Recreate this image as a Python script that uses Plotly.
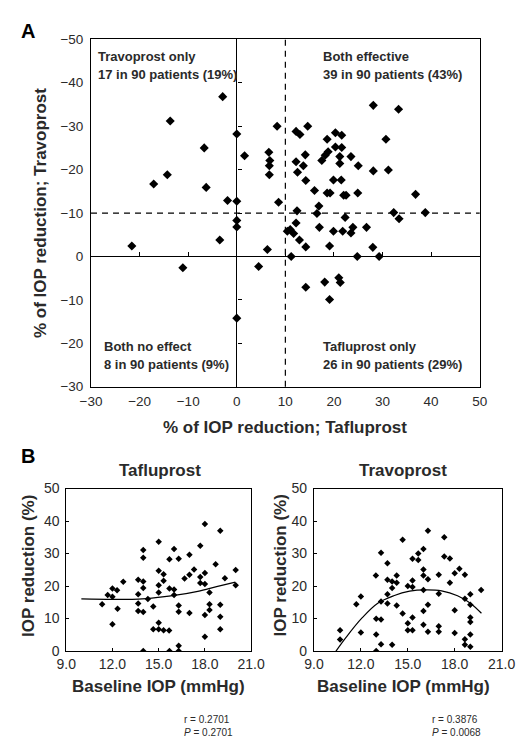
import plotly.graph_objects as go

# ---------------- Panel A data (% IOP reduction) ----------------
taf_red = [-2.9, -13.7, 8.3, 28.1, 33.3, 14.6, 12.2, 13.0, 0.0, -6.7, 1.6, 6.6, 6.8, 6.7, 6.7,
           -14.3, -17.1, -6.3, -1.9, 0.0, 8.6, 30.7, 28.1, 31.2, 36.8, 18.6, 20.3, 21.6, 20.3,
           21.6, 18.8, 18.2, 21.2, 23.5, 17.5, 21.2, 25.0, 12.2, 14.1, 13.7, 12.5, 14.2, 19.9,
           21.5, 16.0, 18.6, 19.2, 22.0, 22.5, 24.9, 16.9, 12.4, 16.5, 22.3, 32.3, 33.4, 38.8,
           12.2, 17.0, 23.9, 26.7, 19.9, 21.8, 23.5, 10.4, 11.0, 11.7, 12.9, 14.2, 19.1, 28.0,
           24.8, 29.3, 11.2, 0.0, 0.0, -3.5, -21.6, 6.3, -11.1, 4.5, 14.2, 18.1, 21.0, 21.3,
           19.1, 0.0]
trav_red = [36.8, 31.2, 30.0, 34.8, 33.9, 30.0, 28.8, 28.1, 28.2, 25.0, 23.2, 24.0, 22.1, 20.9,
            18.8, 18.8, 16.7, 15.9, 12.9, 12.7, 12.5, 27.0, 19.7, 19.9, 14.3, 27.0, 28.5, 27.9,
            25.2, 25.1, 24.1, 23.3, 23.0, 23.0, 22.1, 21.4, 20.9, 21.8, 23.4, 20.9, 19.4, 17.5,
            17.6, 17.6, 15.2, 14.6, 14.6, 14.1, 14.1, 14.6, 11.6, 10.5, 9.9, 9.0, 10.1, 8.7,
            10.1, 7.7, 6.7, 6.7, 6.7, 5.8, 5.8, 5.4, 5.8, 6.2, 5.3, 3.8, 2.2, 2.4, 2.1,
            0.0, 0.0, 0.0, 8.3, 6.8, 3.8, 2.4, 1.6, -2.6, -2.3, -7.1, -5.9, -4.9, -6.0,
            -9.9, -14.2]

a_ticks = [-30, -20, -10, 0, 10, 20, 30, 40, 50]
a_y_ticktext = ["\u221230", "\u221220", "\u221210", "0", "\u221210", "\u221220", "\u221230", "\u221240", "\u221250"]
a_x_ticktext = ["\u221230", "\u221220", "\u221210", "0", "10", "20", "30", "40", "50"]
threshold = 10

quad_titles = ["Travoprost only", "Both effective", "Both no effect", "Tafluprost only"]
quad_counts = ["17 in 90 patients (19%)", "39 in 90 patients (43%)",
               "8 in 90 patients (9%)", "26 in 90 patients (29%)"]

# ---------------- Panel B data ----------------
taf_base = [11.33, 11.69, 12.0, 12.0, 12.0, 12.3, 12.33, 12.7, 13.67, 13.67, 13.67, 13.67, 14.0, 14.0,
            14.0, 14.0, 14.0, 14.0, 14.3, 14.65, 14.65, 15.0, 15.0, 15.0, 15.0, 15.0, 15.0, 15.32,
            15.32, 15.32, 15.68, 15.7, 15.7, 15.7, 16.0, 16.0, 16.0, 16.3, 16.3, 16.3, 16.3, 16.3,
            16.68, 17.0, 17.0, 17.0, 17.3, 17.7, 17.7, 17.7, 18.0, 18.0, 18.0, 18.0, 18.0, 18.3,
            18.3, 18.3, 18.7, 19.0, 19.0, 19.0, 19.0, 19.3, 20.0, 20.0]
taf_pct = [14.4, 17.2, 19.2, 16.7, 8.2, 18.7, 13.0, 21.3, 21.9, 17.5, 14.6, 12.3, 21.4, 19.4,
           31.1, 28.7, 12.0, 0.0, 16.0, 13.7, 6.7, 33.6, 24.7, 20.2, 18.0, 8.7, 6.7, 23.6,
           21.6, 6.4, 6.3, 28.2, 19.2, 0.0, 31.4, 18.9, 17.2, 28.4, 14.0, 12.1, 1.6, 0.0,
           22.3, 29.6, 23.5, 11.7, 25.1, 32.4, 22.8, 20.9, 39.1, 24.0, 20.6, 11.1, 4.4, 18.0,
           14.4, 12.6, 26.7, 37.0, 14.2, 10.5, 6.7, 22.4, 24.9, 20.2]
taf_fit_x = [9.98, 12.05, 13.68, 15.1, 16.12, 17.54, 18.76, 19.98]
taf_fit_y = [16.05, 15.9, 15.96, 16.57, 17.17, 18.37, 19.8, 21.2]

trav_base = [10.67, 10.67, 11.71, 12.0, 12.0, 12.96, 12.98, 12.98, 12.98, 13.29, 13.29, 13.29, 13.29,
             13.7, 13.7, 13.7, 13.7, 14.0, 14.0, 14.0, 14.29, 14.29, 14.29, 14.67, 14.67, 15.0,
             15.0, 15.0, 15.3, 15.3, 15.3, 15.3, 15.3, 15.67, 15.67, 16.0, 16.0, 16.0, 16.0, 16.0,
             16.0, 16.29, 16.29, 16.29, 16.29, 16.98, 16.98, 16.98, 16.98, 17.33, 17.33, 17.69,
             17.69, 18.0, 18.0, 18.0, 18.3, 18.65, 18.65, 18.65, 18.65, 19.0, 19.0, 19.0, 19.0,
             19.0, 19.0, 19.69]
trav_pct = [6.4, 3.5, 14.4, 16.8, 5.7, 23.2, 9.9, 5.1, 0.0, 30.2, 15.2, 9.7, 2.1,
            27.0, 21.9, 17.5, 14.6, 21.4, 19.4, 1.9, 23.2, 21.0, 14.0, 34.2, 11.5, 20.0,
            8.5, 6.4, 28.4, 21.7, 19.7, 10.3, 6.4, 30.0, 28.0, 31.4, 25.1, 23.2, 18.8, 12.3,
            8.1, 37.0, 22.1, 14.2, 5.9, 23.5, 17.6, 7.6, 5.9, 35.0, 29.1, 28.5,
            21.0, 23.9, 12.5, 5.5, 25.3, 23.5, 16.1, 3.6, 1.9, 17.5, 14.2, 10.3, 8.9,
            5.1, 1.3, 18.8]
trav_fit_x = [10.02, 11.04, 12.06, 13.08, 14.1, 15.12, 16.14, 17.16, 18.18, 19.0, 19.71]
trav_fit_y = [-2.7, 4.1, 10.1, 14.7, 17.0, 18.4, 18.8, 18.5, 17.0, 14.7, 11.6]

b_x_ticks = [9, 12, 15, 18, 21]
b_x_ticktext = ["9.0", "12.0", "15.0", "18.0", "21.0"]
b_y_ticks = [0, 10, 20, 30, 40, 50]
stats_taf = ["r = 0.2701", "<i>P</i> = 0.2701"]
stats_trav = ["r = 0.3876", "<i>P</i> = 0.0068"]

# ---------------- Layout geometry ----------------
W, H = 528, 750
FONT = "Liberation Sans, Arial, sans-serif"
TXT = "#2a2a2a"

def px(x):
    return x / W

def py(y):
    return 1 - y / H

A_xdom = [px(84), px(492)]
A_ydom = [py(387), py(32)]
BL_xdom = [px(58), px(252)]
BR_xdom = [px(318), px(515)]
B_ydom = [py(657), py(491)]
A_range = [-30, 50]

# paper position of the zero crossings
zero_y_paper = A_ydom[0] + (0 - A_range[0]) / (A_range[1] - A_range[0]) * (A_ydom[1] - A_ydom[0])
zero_x_paper = A_xdom[0] + (0 - A_range[0]) / (A_range[1] - A_range[0]) * (A_xdom[1] - A_xdom[0])

fig = go.Figure()

fig.add_trace(go.Scatter(x=taf_red, y=trav_red, mode="markers", xaxis="x", yaxis="y",
                         marker=dict(symbol="diamond", size=7, color="black"),
                         showlegend=False, hoverinfo="x+y"))
fig.add_trace(go.Scatter(x=[None], y=[None], mode="markers", xaxis="x2", yaxis="y2",
                         showlegend=False, hoverinfo="skip"))
fig.add_trace(go.Scatter(x=taf_base, y=taf_pct, mode="markers", xaxis="x3", yaxis="y3",
                         marker=dict(symbol="diamond", size=5, color="black"),
                         showlegend=False))
fig.add_trace(go.Scatter(x=taf_fit_x, y=taf_fit_y, mode="lines", xaxis="x3", yaxis="y3",
                         line=dict(color="black", width=1.2, shape="spline"),
                         showlegend=False, hoverinfo="skip"))
fig.add_trace(go.Scatter(x=trav_base, y=trav_pct, mode="markers", xaxis="x4", yaxis="y4",
                         marker=dict(symbol="diamond", size=5, color="black"),
                         showlegend=False))
fig.add_trace(go.Scatter(x=trav_fit_x, y=trav_fit_y, mode="lines", xaxis="x4", yaxis="y4",
                         line=dict(color="black", width=1.2, shape="spline"),
                         showlegend=False, hoverinfo="skip"))

frame = dict(showline=True, linecolor="black", linewidth=1, mirror=True,
             showgrid=False, zeroline=False)

fig.update_layout(
    width=W, height=H, margin=dict(l=0, r=0, t=0, b=0),
    paper_bgcolor="white", plot_bgcolor="white",
    font=dict(family=FONT, color=TXT),
    xaxis=dict(domain=A_xdom, range=A_range, anchor="y", tickvals=a_ticks,
               ticktext=a_x_ticktext, ticks="", tickfont=dict(size=13.5, color=TXT),
               ticklabelstandoff=2,
               showline=True, linecolor="black", linewidth=1, mirror=True, showgrid=False,
               zeroline=True, zerolinecolor="black", zerolinewidth=1.2),
    yaxis=dict(domain=A_ydom, range=A_range, anchor="x", tickvals=a_ticks,
               ticktext=a_y_ticktext, ticks="", tickfont=dict(size=13.5, color=TXT),
               ticklabelstandoff=4,
               showline=True, linecolor="black", linewidth=1, mirror=True, showgrid=False,
               zeroline=True, zerolinecolor="black", zerolinewidth=1.2),
    xaxis2=dict(overlaying="x", anchor="free", position=zero_y_paper, range=A_range,
                tickvals=a_ticks, ticks="inside", ticklen=4, tickcolor="black",
                showticklabels=False, showline=False, showgrid=False, zeroline=False),
    yaxis2=dict(overlaying="y", anchor="free", position=zero_x_paper, range=A_range,
                tickvals=a_ticks, ticks="inside", ticklen=4, tickcolor="black",
                showticklabels=False, showline=False, showgrid=False, zeroline=False),
    xaxis3=dict(domain=BL_xdom, range=[9, 21], anchor="y3", tickvals=b_x_ticks,
                ticktext=b_x_ticktext, ticks="inside", ticklen=3, tickcolor="black",
                tickfont=dict(size=14, color=TXT), **frame),
    yaxis3=dict(domain=B_ydom, range=[0, 50], anchor="x3", tickvals=b_y_ticks,
                ticks="inside", ticklen=3, tickcolor="black", ticklabelstandoff=3,
                tickfont=dict(size=14, color=TXT), **frame),
    xaxis4=dict(domain=BR_xdom, range=[9, 21], anchor="y4", tickvals=b_x_ticks,
                ticktext=b_x_ticktext, ticks="inside", ticklen=3, tickcolor="black",
                tickfont=dict(size=14, color=TXT), **frame),
    yaxis4=dict(domain=B_ydom, range=[0, 50], anchor="x4", tickvals=b_y_ticks,
                ticks="inside", ticklen=3, tickcolor="black", ticklabelstandoff=3,
                tickfont=dict(size=14, color=TXT), **frame),
)

# threshold dashed lines (10% reduction)
fig.add_shape(type="line", xref="x", yref="paper", x0=threshold, x1=threshold,
              y0=A_ydom[0], y1=A_ydom[1], line=dict(color="black", width=1.2, dash="6px,5px"))
fig.add_shape(type="line", xref="paper", yref="y", x0=A_xdom[0], x1=A_xdom[1],
              y0=threshold, y1=threshold, line=dict(color="black", width=1.2, dash="6px,5px"))

def ann(text, x, y, size, xanchor="center", yanchor="middle", bold=True, angle=0, color=TXT,
        align="center"):
    fig.add_annotation(text=f"<b>{text}</b>" if bold else text, x=px(x), y=py(y),
                       xref="paper", yref="paper", xanchor=xanchor, yanchor=yanchor,
                       showarrow=False, textangle=angle, align=align,
                       font=dict(size=size, color=color, family=FONT))

# panel letters
ann("A", 18, 24, 20, color="black")
ann("B", 18, 458, 20, color="black")

# quadrant annotations
quad_pos = [(89, 50), (325, 50), (96, 346), (325, 346)]
for (qx, qy), t, c in zip(quad_pos, quad_titles, quad_counts):
    ann(t, qx, qy, 13, xanchor="left")
    ann(c, qx, qy + 18, 13, xanchor="left")

# panel A axis titles
ann("% of IOP reduction; Tafluprost", 288, 429, 17)
ann("% of IOP reduction; Travoprost", 31, 210, 17, angle=-90)

# panel B titles
ann("Tafluprost", 156, 473, 17)
ann("Travoprost", 412, 473, 17)
ann("IOP reduction (%)", 19, 570, 17, angle=-90)
ann("IOP reduction (%)", 283, 570, 17, angle=-90)
ann("Baseline IOP (mmHg)", 155, 693, 17)
ann("Baseline IOP (mmHg)", 412, 693, 17)

# statistics (two lines in one text block)
ann("<br>".join(stats_taf), 179, 734, 10, xanchor="left", bold=False, align="left")
ann("<br>".join(stats_trav), 440, 734, 10, xanchor="left", bold=False, align="left")

fig.write_html("out.html", post_script="document.body.style.margin='0';",
               config={"displayModeBar": False})
